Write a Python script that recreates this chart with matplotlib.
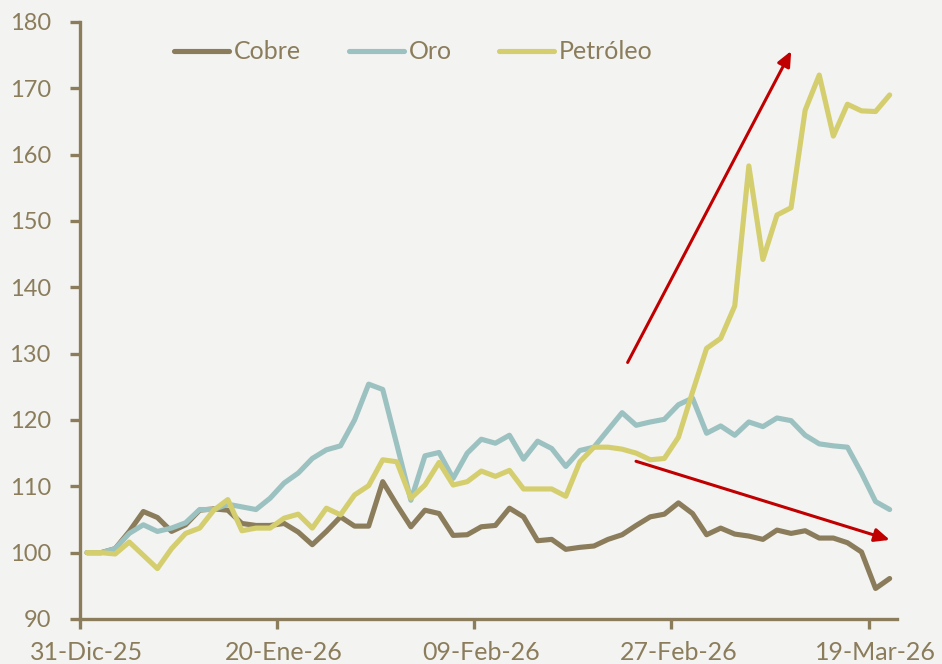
import numpy as np
import pandas as pd
import matplotlib
matplotlib.use('Agg')
import matplotlib.pyplot as plt
from matplotlib.ticker import FixedLocator, NullFormatter

# Datos (indice base 100 = 31-Dic-25), dias habiles
fechas = pd.bdate_range('2025-12-31', periods=58)
meses = {1: 'Ene', 2: 'Feb', 3: 'Mar', 12: 'Dic'}
etiquetas = ['{:02d}-{}-{}'.format(d.day, meses[d.month], str(d.year)[2:]) for d in fechas]

cobre = [100.0, 100.0, 100.6, 103.2, 106.2, 105.3, 103.2, 104.2, 106.4, 106.6,
         106.4, 104.4, 104.1, 104.1, 104.4, 103.1, 101.2, 103.2, 105.4, 104.0,
         104.0, 110.7, 107.2, 103.9, 106.4, 105.9, 102.6, 102.7, 103.9, 104.1,
         106.7, 105.4, 101.8, 102.0, 100.5, 100.8, 101.0, 102.0, 102.7, 104.1,
         105.4, 105.8, 107.5, 105.9, 102.7, 103.7, 102.8, 102.5, 102.0, 103.4,
         102.9, 103.3, 102.2, 102.2, 101.5, 100.1, 94.6, 96.1]
oro = [100.0, 100.0, 100.6, 102.9, 104.2, 103.2, 103.7, 104.5, 106.5, 106.5,
       107.3, 106.9, 106.5, 108.2, 110.5, 112.0, 114.2, 115.5, 116.1, 120.0,
       125.4, 124.6, 116.3, 107.9, 114.6, 115.1, 111.2, 115.0, 117.1, 116.5,
       117.7, 114.1, 116.8, 115.7, 113.0, 115.4, 115.9, 118.5, 121.1, 119.2,
       119.7, 120.1, 122.3, 123.3, 118.0, 119.1, 117.7, 119.7, 119.0, 120.3,
       119.9, 117.7, 116.4, 116.1, 115.9, 112.0, 107.7, 106.5]
petroleo = [100.0, 100.0, 99.8, 101.6, 99.6, 97.6, 100.6, 102.9, 103.7, 106.4,
            108.0, 103.3, 103.7, 103.7, 105.2, 105.8, 103.7, 106.7, 105.7, 108.7,
            110.1, 114.0, 113.7, 108.2, 110.2, 113.6, 110.2, 110.7, 112.3, 111.5,
            112.4, 109.6, 109.6, 109.6, 108.5, 113.7, 115.9, 115.9, 115.6, 115.0,
            114.0, 114.2, 117.4, 124.2, 130.8, 132.3, 137.2, 158.3, 144.2, 150.9,
            152.0, 166.7, 172.0, 162.8, 167.6, 166.6, 166.5, 169.0]

# Estilo
col_txt = '#8B7D5B'
col_cobre = '#8B7D5B'
col_oro = '#9BC1C0'
col_petro = '#D4CE6E'
col_flecha = '#C00000'
fondo = '#F3F3F1'
plt.rcParams['font.family'] = ['Lato', 'DejaVu Sans']

fig = plt.figure(figsize=(9.42, 6.64), dpi=100, facecolor=fondo)
ax = fig.add_axes([0.0849, 0.0678, 0.867, 0.8991], facecolor=fondo)

x = np.arange(len(fechas))
ax.plot(x, cobre, color=col_cobre, lw=3.7, label='Cobre', solid_capstyle='round', solid_joinstyle='round')
ax.plot(x, oro, color=col_oro, lw=3.7, label='Oro', solid_capstyle='round', solid_joinstyle='round')
ax.plot(x, petroleo, color=col_petro, lw=3.7, label='Petróleo', solid_capstyle='round', solid_joinstyle='round')

# Flechas de tendencia
ax.annotate('', xy=(50.1, 176.0), xytext=(38.3, 128.3),
            arrowprops=dict(arrowstyle='-|>,head_length=0.9,head_width=0.4', color=col_flecha, lw=2.2))
ax.annotate('', xy=(57.2, 101.8), xytext=(38.8, 113.9),
            arrowprops=dict(arrowstyle='-|>,head_length=0.9,head_width=0.4', color=col_flecha, lw=2.2))

# Ejes
ax.set_ylim(90, 180)
ax.set_yticks(np.arange(90, 181, 10))
ax.set_xlim(-0.5, len(fechas) - 0.5)
paso = 14
ax.xaxis.set_major_locator(FixedLocator(np.arange(0, len(fechas), paso) - 0.5))
ax.xaxis.set_major_formatter(NullFormatter())
ax.set_xticks(np.arange(0, len(fechas), paso), minor=True)
ax.set_xticklabels([etiquetas[i] for i in range(0, len(fechas), paso)], minor=True)
ax.tick_params(axis='x', which='minor', length=0, pad=15.5, labelsize=18, labelcolor=col_txt)
ax.tick_params(axis='x', which='major', length=7, width=2.4, color=col_txt, direction='out')
ax.tick_params(axis='y', length=7, width=2.4, color=col_txt, pad=14, labelsize=17, labelcolor=col_txt)

for s in ['top', 'right']:
    ax.spines[s].set_visible(False)
for s in ['left', 'bottom']:
    ax.spines[s].set_color(col_txt)
    ax.spines[s].set_linewidth(2.4)

leg = ax.legend(loc='center left', bbox_to_anchor=(0.115, 0.950), ncol=3, frameon=False,
                fontsize=18, handlelength=2.2, handletextpad=0.2, columnspacing=1.9,
                borderpad=0, borderaxespad=0)
for t in leg.get_texts():
    t.set_color(col_txt)

plt.savefig('out.png', dpi=100, facecolor=fondo)
